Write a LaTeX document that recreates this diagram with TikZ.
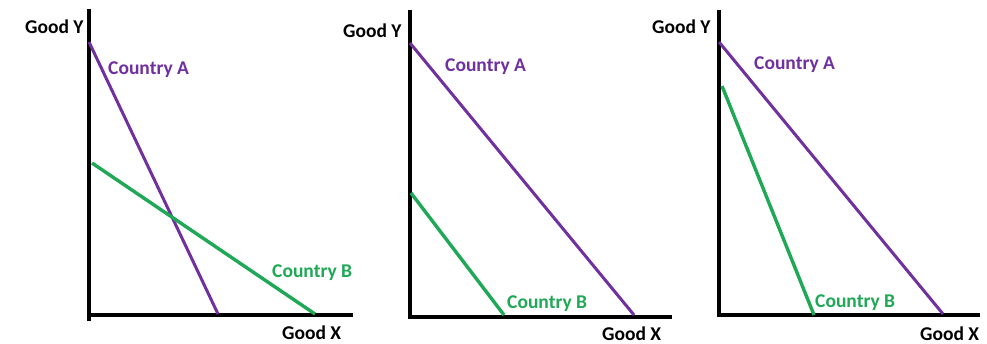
\documentclass[tikz,border=0pt]{standalone}
\usepackage{fontspec}
\setmainfont{Carlito}
\usepackage{tikz}
\usetikzlibrary{positioning}
\usepackage{xcolor}
\definecolor{ctrya}{HTML}{7030A0}
\definecolor{ctryb}{HTML}{1FA855}

\begin{document}
\begin{tikzpicture}[x=1pt,y=-1pt,
    axis/.style={line width=3.4pt},
    linea/.style={ctrya, line width=3pt},
    lineb/.style={ctryb, line width=3.4pt},
    lbl/.style={font=\fontsize{19.5}{22}\selectfont\bfseries, inner sep=0pt, anchor=base west},
    lbla/.style={lbl, ctrya},
    lblb/.style={lbl, ctryb}]
  \useasboundingbox (0,0) rectangle (987,343);

  % left panel
  \coordinate (o1) at (89,315);
  \coordinate (y1) at (89,9);
  \coordinate (x1) at (353,315);
  \coordinate (a1s) at (89,42);  \coordinate (a1e) at (218,314);
  \coordinate (b1s) at (92,163); \coordinate (b1e) at (315,314);
  \draw[axis] (y1) -- (89,321);
  \draw[axis] (o1) -- (x1);
  \draw[linea] (a1s) -- (a1e);
  \draw[lineb] (b1s) -- (b1e);
  \node[lbl]  (gy1) at (25,33)   {Good Y};
  \node[lbla] (ca1) at (108,74)  {Country A};
  \node[lblb] (cb1) at (272,277) {Country B};
  \node[lbl]  (gx1) at (282,339) {Good X};

  % middle panel
  \coordinate (o2) at (410,317);
  \coordinate (y2) at (410,10);
  \coordinate (x2) at (672,317);
  \coordinate (a2s) at (410,43);  \coordinate (a2e) at (634,315);
  \coordinate (b2s) at (411,193); \coordinate (b2e) at (504,315);
  \draw[axis] (y2) -- (410,319);
  \draw[axis] (o2) -- (x2);
  \draw[linea] (a2s) -- (a2e);
  \draw[lineb] (b2s) -- (b2e);
  \node[lbl]  (gy2) at (343,37)  {Good Y};
  \node[lbla] (ca2) at (445,71)  {Country A};
  \node[lblb] (cb2) at (507,308) {Country B};
  \node[lbl]  (gx2) at (602,340) {Good X};

  % right panel
  \coordinate (o3) at (719,315);
  \coordinate (y3) at (719,10);
  \coordinate (x3) at (980,315);
  \coordinate (a3s) at (719,42);  \coordinate (a3e) at (943,314);
  \coordinate (b3s) at (722,86);  \coordinate (b3e) at (814,315);
  \draw[axis] (y3) -- (719,317);
  \draw[axis] (o3) -- (x3);
  \draw[linea] (a3s) -- (a3e);
  \draw[lineb] (b3s) -- (b3e);
  \node[lbl]  (gy3) at (652,33)  {Good Y};
  \node[lbla] (ca3) at (754,69)  {Country A};
  \node[lblb] (cb3) at (815,307) {Country B};
  \node[lbl]  (gx3) at (920,340) {Good X};
\end{tikzpicture}
\end{document}
